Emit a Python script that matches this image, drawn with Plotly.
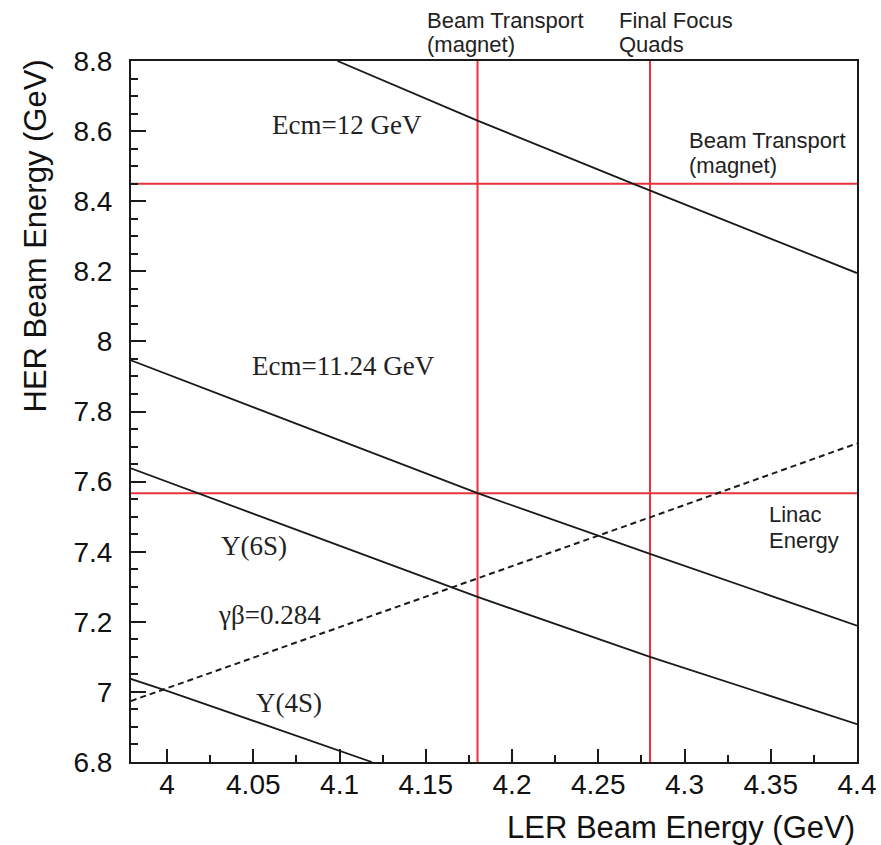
import plotly.graph_objects as go

# ---- data ----
ecm12_x = [4.0988, 4.18, 4.27, 4.4]
ecm12_y = [8.80, 8.63, 8.45, 8.195]

ecm1124_x = [3.979, 4.18, 4.28, 4.4]
ecm1124_y = [7.946, 7.567, 7.394, 7.189]

y6s_x = [3.979, 4.1658, 4.18, 4.28, 4.4]
y6s_y = [7.638, 7.298, 7.271, 7.10, 6.908]

y4s_x = [3.979, 4.0, 4.1187]
y4s_y = [7.037, 7.003, 6.80]

gb_x = [3.979, 4.1658, 4.18, 4.28, 4.4]
gb_y = [6.974, 7.298, 7.323, 7.498, 7.709]

vlines_x = [4.18, 4.28]       # Beam transport (magnet), Final focus quads
hlines_y = [8.45, 7.567]      # Beam transport (magnet), Linac energy

x_tickvals = [4.0, 4.05, 4.1, 4.15, 4.2, 4.25, 4.3, 4.35, 4.4]
x_ticktext = ["4", "4.05", "4.1", "4.15", "4.2", "4.25", "4.3", "4.35", "4.4"]
y_tickvals = [6.8, 7.0, 7.2, 7.4, 7.6, 7.8, 8.0, 8.2, 8.4, 8.6, 8.8]
y_ticktext = ["6.8", "7", "7.2", "7.4", "7.6", "7.8", "8", "8.2", "8.4", "8.6", "8.8"]

XR = [3.9791, 4.4]
YR = [6.8, 8.8]

black = "#1a1a1a"
red = "#e8323c"
sans = "Liberation Sans, Arial, sans-serif"
serif = "Liberation Serif, Times New Roman, serif"

fig = go.Figure()

for vx in vlines_x:
    fig.add_trace(go.Scatter(x=[vx, vx], y=YR, mode="lines",
                             line=dict(color=red, width=2), showlegend=False, hoverinfo="skip"))
for hy in hlines_y:
    fig.add_trace(go.Scatter(x=XR, y=[hy, hy], mode="lines",
                             line=dict(color=red, width=2), showlegend=False, hoverinfo="skip"))

for xs, ys in [(ecm12_x, ecm12_y), (ecm1124_x, ecm1124_y), (y6s_x, y6s_y), (y4s_x, y4s_y)]:
    fig.add_trace(go.Scatter(x=xs, y=ys, mode="lines",
                             line=dict(color=black, width=1.8), showlegend=False, hoverinfo="skip"))

fig.add_trace(go.Scatter(x=gb_x, y=gb_y, mode="lines",
                         line=dict(color=black, width=2, dash="6px,4px"),
                         showlegend=False, hoverinfo="skip"))

serif_labels = [
    ("Ecm=12 GeV", 4.0597, 8.617),
    ("Ecm=11.24 GeV", 4.0481, 7.929),
    ("Y(6S)", 4.0301, 7.417),
    ("γβ=0.284", 4.0284, 7.22),
    ("Y(4S)", 4.0504, 6.969),
]
for txt, x, y in serif_labels:
    fig.add_annotation(x=x, y=y, xref="x", yref="y", text=txt, showarrow=False,
                       xanchor="left", yanchor="middle",
                       font=dict(family=serif, size=27, color="#222"))

# inside labels, one annotation per line (data coordinates)
sans_lines_in = [
    ("Beam Transport", 4.3014, 8.574),
    ("(magnet)", 4.3014, 8.503),
    ("Linac", 4.3476, 7.506),
    ("Energy", 4.3476, 7.431),
]
for txt, x, y in sans_lines_in:
    fig.add_annotation(x=x, y=y, xref="x", yref="y", text=txt, showarrow=False,
                       xanchor="left", yanchor="middle", align="left",
                       font=dict(family=sans, size=22, color="#222"))

# labels above the plot, one annotation per line (paper y)
sans_lines_out = [
    ("Beam Transport", 4.1496, (762 - 20) / 701),
    ("(magnet)", 4.1496, (762 - 45) / 701),
    ("Final Focus", 4.2609, (762 - 20) / 701),
    ("Quads", 4.2609, (762 - 45) / 701),
]
for txt, x, y in sans_lines_out:
    fig.add_annotation(x=x, y=y, xref="x", yref="paper", text=txt,
                       showarrow=False, xanchor="left", yanchor="middle", align="left",
                       font=dict(family=sans, size=22, color="#222"))

fig.add_annotation(x=1.0, y=(762 - 828) / 701, xref="paper", yref="paper",
                   text="LER Beam Energy (GeV)", showarrow=False,
                   xanchor="right", yanchor="middle",
                   font=dict(family=sans, size=31, color="#111"))
fig.add_annotation(x=(35 - 131) / 726, y=1.0 + 3 / 701, xref="paper", yref="paper",
                   text="HER Beam Energy (GeV)", showarrow=False, textangle=-90,
                   xanchor="center", yanchor="top",
                   font=dict(family=sans, size=31, color="#111"))

fig.update_xaxes(range=XR, tickmode="array", tickvals=x_tickvals, ticktext=x_ticktext,
                 ticks="inside", ticklen=13, tickwidth=2, tickcolor=black,
                 minor=dict(tickmode="linear", tick0=4.0, dtick=0.025, ticks="inside",
                            ticklen=7, tickwidth=2, tickcolor=black),
                 showline=True, linecolor=black, linewidth=2, mirror=True,
                 showgrid=False, zeroline=False, ticklabelstandoff=-4,
                 tickfont=dict(family=sans, size=28, color="#111"))
fig.update_yaxes(range=YR, tickmode="array", tickvals=y_tickvals, ticktext=y_ticktext,
                 ticks="inside", ticklen=15, tickwidth=2, tickcolor=black,
                 minor=dict(tickmode="linear", tick0=6.8, dtick=0.05, ticks="inside",
                            ticklen=7, tickwidth=2, tickcolor=black),
                 showline=True, linecolor=black, linewidth=2, mirror=True,
                 showgrid=False, zeroline=False, ticklabelstandoff=11,
                 tickfont=dict(family=sans, size=28, color="#111"))

fig.update_layout(width=881, height=845, margin=dict(l=131, r=24, t=61, b=83, autoexpand=False),
                  plot_bgcolor="white", paper_bgcolor="white", showlegend=False,
                  hovermode=False)

# remove the default 8px page margin so the figure fills the window exactly
fig.write_html("out.html", config={"displayModeBar": False, "staticPlot": True},
               post_script="document.body.style.margin='0';document.body.style.overflow='hidden';")
